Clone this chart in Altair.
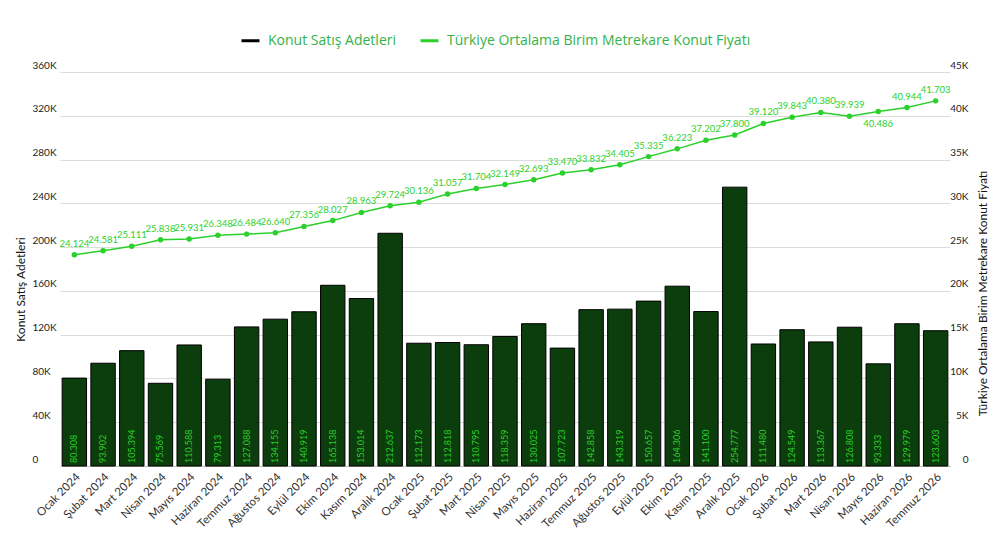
import altair as alt
import pandas as pd

months = [
    "Ocak 2024", "Şubat 2024", "Mart 2024", "Nisan 2024", "Mayıs 2024",
    "Haziran 2024", "Temmuz 2024", "Ağustos 2024", "Eylül 2024", "Ekim 2024",
    "Kasım 2024", "Aralık 2024", "Ocak 2025", "Şubat 2025", "Mart 2025",
    "Nisan 2025", "Mayıs 2025", "Haziran 2025", "Temmuz 2025", "Ağustos 2025",
    "Eylül 2025", "Ekim 2025", "Kasım 2025", "Aralık 2025", "Ocak 2026",
    "Şubat 2026", "Mart 2026", "Nisan 2026", "Mayıs 2026", "Haziran 2026",
    "Temmuz 2026",
]
sales = [
    80308, 93902, 105394, 75569, 110588, 79313, 127088, 134155, 140919,
    165138, 153014, 212637, 112173, 112818, 110795, 118359, 130025, 107723,
    142858, 143319, 150657, 164306, 141100, 254777, 111480, 124549, 113367,
    126808, 93333, 129979, 123603,
]
prices = [
    24124, 24581, 25111, 25838, 25931, 26348, 26484, 26640, 27356, 28027,
    28963, 29724, 30136, 31057, 31704, 32149, 32693, 33470, 33832, 34405,
    35335, 36223, 37202, 37800, 39120, 39843, 40380, 39939, 40486, 40944,
    41703,
]

SALES_NAME = "Konut Satış Adetleri"
PRICE_NAME = "Türkiye Ortalama Birim Metrekare Konut Fiyatı"
GREEN = "#2bd12b"
BAR_FILL = "#0c3d0c"

df = pd.DataFrame({"month": months, "sales": sales, "price": prices})
df["s1"] = SALES_NAME
df["s2"] = PRICE_NAME

x_enc = alt.X("month:N", sort=months).scale(
    range=[28, 918], paddingInner=0.15, paddingOuter=0.075
).axis(
    title=None, labelAngle=315, labelFontSize=11.5, labelColor="#333",
    ticks=False, labelPadding=5, domainColor="#bbb", grid=False,
)

stroke_scale = alt.Scale(domain=[SALES_NAME, PRICE_NAME], range=["black", GREEN])
legend = alt.Legend(
    title=None, orient="none", legendX=208, legendY=-42, direction="horizontal",
    symbolType="stroke", symbolStrokeWidth=3, symbolSize=324, labelLimit=500,
    labelFont="Open Sans", labelFontSize=14, labelColor="#35b24a",
    columnPadding=17, labelOffset=7,
)

k_expr = "datum.value == 0 ? '0' : format(datum.value / 1000, 'd') + 'K'"

bars = alt.Chart(df).mark_bar(fill=BAR_FILL, strokeWidth=1).encode(
    x=x_enc,
    y=alt.Y("sales:Q").scale(domain=[0, 360000], nice=False).axis(
        title=SALES_NAME, orient="left", values=list(range(0, 360001, 40000)),
        labelExpr=k_expr,
        labelAlign="left", labelBaseline="bottom", labelPadding=0, tickSize=0,
        ticks=False, domain=False, labelOffset=-2, labelFontSize=10, labelColor="#222",
        gridColor="#dcdcdc", titleAngle=270, titleX=-12, titleY=217,
        titleAlign="center", titleBaseline="middle", titleFontSize=12,
        titleFontWeight="normal", titleColor="#111",
    ),
    stroke=alt.Stroke("s1:N", scale=stroke_scale, legend=legend),
)

bar_text = alt.Chart(df).transform_calculate(
    label="replace(format(datum.sales, ','), ',', '.')"
).mark_text(
    angle=270, align="left", baseline="middle", dx=3, fontSize=9, color=GREEN
).encode(
    x=alt.X("month:N", sort=months),
    y=alt.datum(0),
    text="label:N",
)

line = alt.Chart(df).mark_line(strokeWidth=1.5).encode(
    x=alt.X("month:N", sort=months),
    y=alt.Y("price:Q").scale(domain=[0, 45000], nice=False).axis(
        title=PRICE_NAME, orient="right",
        values=list(range(0, 45001, 5000)),
        labelExpr=k_expr,
        labelAlign="right", labelBaseline="bottom", labelPadding=0, tickSize=0,
        ticks=False, domain=False, grid=False, labelOffset=-2, labelFontSize=10,
        labelColor="#222", titleAngle=270, titleX=14, titleY=221,
        titleAlign="center", titleBaseline="middle", titleFontSize=12,
        titleFontWeight="normal", titleColor="#111",
    ),
    stroke=alt.Stroke("s2:N", scale=stroke_scale, legend=legend),
)

points = alt.Chart(df).mark_point(filled=True, size=30, color=GREEN, opacity=1).encode(
    x=alt.X("month:N", sort=months),
    y=alt.Y("price:Q"),
)

price_label = "replace(format(datum.price, ','), ',', '.')"
line_text = alt.Chart(df).transform_filter(
    alt.datum.month != "Mayıs 2026"
).transform_calculate(label=price_label).mark_text(
    dy=-11, fontSize=9.5, color=GREEN
).encode(
    x=alt.X("month:N", sort=months),
    y=alt.Y("price:Q"),
    text="label:N",
)
line_text_below = alt.Chart(df).transform_filter(
    alt.datum.month == "Mayıs 2026"
).transform_calculate(label=price_label).mark_text(
    dy=12, fontSize=9.5, color=GREEN
).encode(
    x=alt.X("month:N", sort=months),
    y=alt.Y("price:Q"),
    text="label:N",
)

left = alt.layer(bars, bar_text)
right = alt.layer(line, points, line_text, line_text_below)

chart = alt.layer(left, right).resolve_scale(y="independent").properties(
    width=936, height=394,
    autosize=alt.AutoSizeParams(type="none"),
    padding={"left": 24, "top": 64, "right": 24, "bottom": 80},
).configure(font="Lato").configure_view(stroke=None)

chart.save("out.html", embed_options={"renderer": "svg", "actions": False})
